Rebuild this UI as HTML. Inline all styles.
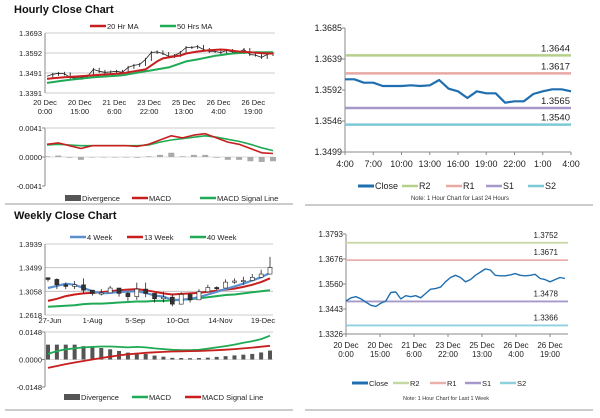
<!DOCTYPE html>
<html><head><meta charset="utf-8">
<style>
body{margin:0;background:#fff;width:600px;height:413px;overflow:hidden;font-family:"Liberation Sans",Arial,sans-serif}
svg text{font-family:"Liberation Sans",Arial,sans-serif}
</style></head>
<body>
<svg id="c" width="600" height="413" xmlns="http://www.w3.org/2000/svg">
<text x="14" y="13" font-size="11" font-weight="bold" fill="#111">Hourly Close Chart</text>
<text x="14" y="219" font-size="11" font-weight="bold" fill="#111">Weekly Close Chart</text>
<line x1="5" y1="204" x2="293" y2="204" stroke="#999" stroke-width="1"/>
<line x1="305" y1="205" x2="593" y2="205" stroke="#999" stroke-width="1"/>
<line x1="5" y1="410" x2="293" y2="410" stroke="#999" stroke-width="1"/>
<line x1="305" y1="410" x2="593" y2="410" stroke="#999" stroke-width="1"/>
</svg>
<script>
// ---- Hourly price panel data
const hCloseVals=[1.3475,1.3485,1.349,1.3487,1.347,1.3465,1.347,1.3475,1.351,1.35,1.3495,1.3497,1.35,1.3495,1.352,1.353,1.3535,1.356,1.3595,1.3598,1.359,1.3575,1.358,1.3595,1.362,1.362,1.3625,1.361,1.36,1.36,1.3595,1.3605,1.3598,1.3595,1.361,1.3585,1.3582,1.357,1.3585,1.359];
const hMA20=[1.3462,1.3465,1.3468,1.347,1.3472,1.3474,1.3476,1.3478,1.348,1.3482,1.3484,1.3486,1.3488,1.349,1.3495,1.35,1.3505,1.351,1.353,1.355,1.3565,1.357,1.3575,1.358,1.359,1.3595,1.36,1.3603,1.3606,1.3608,1.361,1.3608,1.3604,1.36,1.3598,1.3596,1.3594,1.3592,1.359,1.359];
const hMA50=[1.3442,1.3446,1.345,1.3454,1.3458,1.3461,1.3464,1.3467,1.347,1.3472,1.3474,1.3476,1.3478,1.348,1.3485,1.349,1.3495,1.35,1.3505,1.351,1.3515,1.352,1.353,1.354,1.355,1.3555,1.356,1.3566,1.3572,1.3578,1.3582,1.3586,1.359,1.3592,1.3594,1.3595,1.3596,1.3596,1.3596,1.3596];
const hTicks=["1.3693","1.3592","1.3491","1.3391"];
const hXLabels=[["20 Dec","0:00"],["20 Dec","15:00"],["21 Dec","6:00"],["23 Dec","22:00"],["25 Dec","13:00"],["26 Dec","4:00"],["26 Dec","19:00"]];
// ---- Hourly MACD
const hMacd=[0.0018,0.002,0.0016,0.0012,0.0016,0.0016,0.0016,0.0016,0.0015,0.0018,0.0024,0.003,0.0027,0.0031,0.0033,0.0027,0.0021,0.0018,0.0012,0.0006,0.0005];
const hSignal=[0.0017,0.0018,0.0017,0.0016,0.0016,0.0016,0.0016,0.0016,0.0016,0.0017,0.0021,0.0024,0.0026,0.0028,0.003,0.0028,0.0025,0.0022,0.0018,0.0013,0.0009];
const hDiv=[0.0001,0.0002,-0.0001,-0.0004,0,0,0,0,-0.0001,0.0001,0.0003,0.0006,0.0001,0.0003,0.0003,-0.0001,-0.0004,-0.0004,-0.0006,-0.0007,-0.0006];
const hMacdTicks=["0.0041","0.0000","-0.0041"];
// ---- Top right (24h)
const dClose=[1.3608,1.3608,1.3603,1.3603,1.3598,1.3598,1.3598,1.3599,1.3598,1.3599,1.3607,1.3594,1.359,1.358,1.359,1.3587,1.3587,1.3573,1.3575,1.3575,1.3586,1.359,1.3593,1.3593,1.359];
const dLevels=[1.3644,1.3617,1.3565,1.3540];
const dTicks=["1.3685","1.3639","1.3592","1.3546","1.3499"];
const dXLabels=["4:00","7:00","10:00","13:00","16:00","19:00","22:00","1:00","4:00"];
// ---- Weekly
const wClose=[1.328,1.318,1.315,1.318,1.308,1.302,1.303,1.312,1.302,1.296,1.31,1.302,1.292,1.295,1.282,1.3,1.29,1.305,1.313,1.312,1.323,1.325,1.326,1.332,1.338,1.35];
const wHigh=[1.332,1.33,1.322,1.325,1.33,1.306,1.31,1.316,1.31,1.305,1.322,1.322,1.298,1.305,1.3,1.304,1.302,1.31,1.318,1.315,1.328,1.33,1.333,1.338,1.346,1.37];
const wLow=[1.324,1.31,1.31,1.31,1.302,1.298,1.298,1.306,1.296,1.288,1.29,1.295,1.285,1.285,1.278,1.29,1.285,1.3,1.308,1.308,1.318,1.32,1.318,1.325,1.332,1.34];
const w4=[1.312,1.316,1.32,1.318,1.312,1.306,1.302,1.303,1.305,1.305,1.306,1.303,1.298,1.296,1.29,1.29,1.292,1.295,1.3,1.305,1.31,1.315,1.32,1.326,1.332,1.34];
const w13=[1.288,1.292,1.297,1.3,1.302,1.303,1.304,1.306,1.308,1.309,1.31,1.308,1.305,1.302,1.3,1.301,1.302,1.303,1.305,1.307,1.309,1.311,1.314,1.318,1.323,1.33];
const w40=[1.277,1.278,1.279,1.28,1.282,1.283,1.283,1.284,1.285,1.286,1.287,1.287,1.288,1.288,1.289,1.29,1.291,1.293,1.295,1.297,1.299,1.3,1.302,1.304,1.306,1.308];
const wTicks=["1.3939","1.3499","1.3058","1.2618"];
const wXLabels=["27-Jun","1-Aug","5-Sep","10-Oct","14-Nov","19-Dec"];
const wMacd=[0.003,0.0045,0.0055,0.006,0.0065,0.0068,0.007,0.007,0.0068,0.0065,0.0068,0.0065,0.006,0.0056,0.0052,0.005,0.005,0.0052,0.0058,0.0065,0.0072,0.008,0.009,0.0098,0.011,0.0128];
const wSignal=[-0.0045,-0.0035,-0.0025,-0.0016,-0.0008,0,0.0008,0.0015,0.0022,0.0028,0.0032,0.0036,0.0039,0.0041,0.0043,0.0044,0.0045,0.0046,0.0048,0.005,0.0053,0.0056,0.006,0.0064,0.0069,0.0074];
const wDiv=[0.008,0.008,0.008,0.008,0.0072,0.0068,0.0062,0.0055,0.0046,0.0037,0.0036,0.003,0.0021,0.0015,0.0009,0.0008,0.0007,0.0008,0.001,0.0014,0.0018,0.0022,0.0026,0.003,0.0038,0.0048];
const wMacdTicks=["0.0148","0.0000","-0.0148"];
// ---- Bottom right (1 week)
const bClose=[1.348,1.3495,1.35,1.349,1.3475,1.346,1.3455,1.347,1.348,1.352,1.3522,1.349,1.3505,1.35,1.3505,1.3495,1.3515,1.3535,1.3538,1.3545,1.357,1.359,1.36,1.359,1.357,1.358,1.36,1.3615,1.363,1.3625,1.36,1.3598,1.3598,1.3602,1.3608,1.36,1.3598,1.36,1.3605,1.3585,1.358,1.357,1.358,1.359,1.3585];
const bLevels=[1.3752,1.3671,1.3478,1.3366];
const bTicks=["1.3793","1.3676","1.3560","1.3443","1.3326"];
const bXLabels=[["20 Dec","0:00"],["20 Dec","15:00"],["21 Dec","6:00"],["23 Dec","22:00"],["25 Dec","13:00"],["26 Dec","4:00"],["26 Dec","19:00"]];

const svg=document.getElementById('c');
const NS='http://www.w3.org/2000/svg';
function mk(tag,attrs,parent){const e=document.createElementNS(NS,tag);for(const k in attrs)e.setAttribute(k,attrs[k]);(parent||svg).appendChild(e);return e;}
function txt(x,y,s,size,anchor,fill){const t=mk('text',{x:x,y:y,'font-size':size,'text-anchor':anchor||'start',fill:fill||'#222'});t.textContent=s;return t;}
function scale(d0,d1,r0,r1){return v=>r0+(v-d0)/(d1-d0)*(r1-r0);}
function line(vals,xf,yf,color,w,name){const p=vals.map((v,i)=>(i?'L':'M')+xf(i).toFixed(1)+' '+yf(v).toFixed(1)).join(' ');const e=mk('path',{d:p,fill:'none',stroke:color,'stroke-width':w,'stroke-linejoin':'round'});return e;}
function yAxis(ticks,x0,x1,yTop,yBot,grid,name,fs){const n=ticks.length;ticks.forEach((t,i)=>{const y=yTop+(yBot-yTop)*i/(n-1);if(grid)mk('line',{x1:x0,y1:y,x2:x1,y2:y,stroke:'#bbb','stroke-width':0.8});else mk('line',{x1:x0-3,y1:y,x2:x0,y2:y,stroke:'#888'});const e=txt(x0-3,y+3,t,fs||7.5,'end');});mk('line',{x1:x0,y1:yTop,x2:x0,y2:yBot,stroke:'#888'});}
function legend(items,y,fs){items.forEach(it=>{const g=mk('g',{});if(it[3]==='bar')mk('rect',{x:it[0],y:y-4,width:16,height:6,fill:it[2]},g);else mk('line',{x1:it[0],y1:y-1,x2:it[0]+16,y2:y-1,stroke:it[2],'stroke-width':it[3]||2.5},g);const t=txt(it[0]+17,y+2,it[1],fs||7.5,'start');g.appendChild(t);});}

// ===== Hourly price
(function(){const x0=45,x1=275,yT=33,yB=93;const y=scale(1.3391,1.3693,yB,yT);
yAxis(hTicks,x0,x1,yT,yB,true,'hourly-y');
hXLabels.forEach((l,i)=>{const x=x0+i*34.7;const a=txt(x,105,l[0],7.5,'middle');txt(x,114,l[1],7.5,'middle');});
const n=hCloseVals.length,xf=i=>x0+2+i*(x1-x0-4)/(n-1);
hCloseVals.forEach((v,i)=>{if(i===0)return;const xx=xf(i),p=hCloseVals[i-1];const b=mk('line',{x1:xx,y1:y(Math.max(v,p))-1.5,x2:xx,y2:y(Math.min(v,p))+1.5,stroke:'#111','stroke-width':0.8});});
line(hCloseVals,xf,y,'#222',0.8,'hourly-close-line');
line(hMA50,xf,y,'#1faa55',2,'hourly-ma50-line');
line(hMA20,xf,y,'#c81e1e',2,'hourly-ma20-line');
legend([[90,'20 Hr MA','#c81e1e'],[160,'50 Hrs MA','#1faa55']],27);
})();
// ===== Hourly MACD
(function(){const x0=45,x1=275,yT=128,yB=186;const y=scale(-0.0041,0.0041,yB,yT);
yAxis(hMacdTicks,x0,x1,yT,yB,false,'hourly-macd-y');mk('line',{x1:x0,y1:yT,x2:x1,y2:yT,stroke:'#ccc'});
const n=hMacd.length,xf=i=>x0+2+i*(x1-x0-4)/(n-1);
mk('line',{x1:x0,y1:y(0),x2:x1,y2:y(0),stroke:'#bbb','stroke-width':0.6});
hDiv.forEach((v,i)=>{const b=mk('rect',{x:xf(i)-3,y:Math.min(y(v),y(0)),width:6,height:Math.max(0.5,Math.abs(y(v)-y(0))),fill:'#aaa'});});
line(hSignal,xf,y,'#1faa55',1.6,'hourly-signal-line');
line(hMacd,xf,y,'#c81e1e',1.6,'hourly-macd-line');
legend([[65,'Divergence','#555','bar'],[132,'MACD','#c81e1e'],[200,'MACD Signal Line','#1faa55']],199);
})();
// ===== Top right
(function(){const x0=345,x1=571,yT=28,yB=152;const y=scale(1.3499,1.3685,yB,yT);
yAxis(dTicks,x0,x1,yT,yB,false,'daily-y',9);mk('line',{x1:x0,y1:yB,x2:x1,y2:yB,stroke:'#888'});
const n=dClose.length,xf=i=>x0+i*(x1-x0)/(n-1);
dXLabels.forEach((l,i)=>{const x=x0+i*(x1-x0)/8;mk('line',{x1:x,y1:yB,x2:x,y2:yB+3,stroke:'#888'});const t=txt(x,167,l,9,'middle');});
const cols=['#b5d08a','#e8a8a4','#a699c9','#7ccad6'];
dLevels.forEach((v,i)=>{const l=mk('line',{x1:x0,y1:y(v),x2:x1,y2:y(v),stroke:cols[i],'stroke-width':2.5});const t=txt(x1-1,y(v)-4,v.toFixed(4),9.5,'end');});
line(dClose,xf,y,'#1f6fb0',2.2,'daily-close-line');
legend([[358,'Close','#1f6fb0',3],[402,'R2',cols[0]],[446,'R1',cols[1]],[486,'S1',cols[2]],[528,'S2',cols[3]]],187,9);
const nt=txt(460,200,'Note: 1 Hour Chart for Last 24 Hours',6,'middle','#333');
})();
// ===== Weekly price
(function(){const x0=45,x1=273,yT=244,yB=315;const y=scale(1.2618,1.3939,yB,yT);
yAxis(wTicks,x0,x1,yT,yB,true,'weekly-y');
wXLabels.forEach((l,i)=>{const x=50+i*42.6;const t=txt(x,323,l,7.5,'middle');});
const n=wClose.length,xf=i=>x0+3+i*(x1-x0-6)/(n-1);
line(w40,xf,y,'#1faa55',2,'weekly-40w-line');
line(w13,xf,y,'#c81e1e',2,'weekly-13w-line');
line(w4,xf,y,'#5b8fd0',2.2,'weekly-4w-line');
wClose.forEach((v,i)=>{const xx=xf(i);const g=mk('g',{});mk('line',{x1:xx,y1:y(wHigh[i]),x2:xx,y2:y(wLow[i]),stroke:'#222','stroke-width':0.8},g);const o=i?wClose[i-1]:v+0.003;mk('rect',{x:xx-2,y:y(Math.max(o,v)),width:4,height:Math.max(1.2,Math.abs(y(o)-y(v))),fill:v>=o?'#fff':'#333',stroke:'#222','stroke-width':0.6},g);});
legend([[70,'4 Week','#5b8fd0'],[127,'13 Week','#c81e1e'],[190,'40 Week','#1faa55']],238);
})();
// ===== Weekly MACD
(function(){const x0=45,x1=273,yT=332,yB=387;const y=scale(-0.0148,0.0148,yB,yT);
yAxis(wMacdTicks,x0,x1,yT,yB,false,'weekly-macd-y');mk('line',{x1:x0,y1:yT,x2:x1,y2:yT,stroke:'#ccc'});mk('line',{x1:x0,y1:y(0),x2:x1,y2:y(0),stroke:'#bbb','stroke-width':0.6});
const n=wMacd.length,xf=i=>x0+3+i*(x1-x0-6)/(n-1);
wDiv.forEach((v,i)=>{const b=mk('rect',{x:xf(i)-2,y:Math.min(y(v),y(0)),width:4,height:Math.abs(y(v)-y(0)),fill:'#555'});});
line(wMacd,xf,y,'#1faa55',1.8,'weekly-macd-line');
line(wSignal,xf,y,'#c81e1e',1.8,'weekly-signal-line');
legend([[64,'Divergence','#555','bar'],[132,'MACD','#1faa55'],[185,'MACD Signal Line','#c81e1e']],398);
})();
// ===== Bottom right
(function(){const x0=346,x1=568,yT=234,yB=334;const y=scale(1.3326,1.3793,yB,yT);
yAxis(bTicks,x0,x1,yT,yB,false,'weekly-hourly-y',8);mk('line',{x1:x0,y1:yB,x2:x1,y2:yB,stroke:'#888'});
bXLabels.forEach((l,i)=>{const x=x0+i*34;mk('line',{x1:x,y1:yB,x2:x,y2:yB+3,stroke:'#888'});const t=txt(x,348,l[0],8,'middle');txt(x,357,l[1],8,'middle');});
const cols=['#c5d8a0','#eab0ac','#a699c9','#8fd0dc'];
bLevels.forEach((v,i)=>{const l=mk('line',{x1:x0,y1:y(v),x2:x1,y2:y(v),stroke:cols[i],'stroke-width':1.8});const t=txt(x1-10,y(v)-5,v.toFixed(4),8,'end');});
const n=bClose.length,xf=i=>x0+i*(x1-x0-3)/(n-1);
line(bClose,xf,y,'#1f6fb0',1.4,'weekly-hourly-close-line');
legend([[352,'Close','#1f6fb0',3],[393,'R2',cols[0]],[430,'R1',cols[1]],[465,'S1',cols[2]],[500,'S2',cols[3]]],384);
const nt=txt(446,400,'Note: 1 Hour Chart for  Last 1 Week',5.5,'middle','#333');
})();
</script>
</body></html>
